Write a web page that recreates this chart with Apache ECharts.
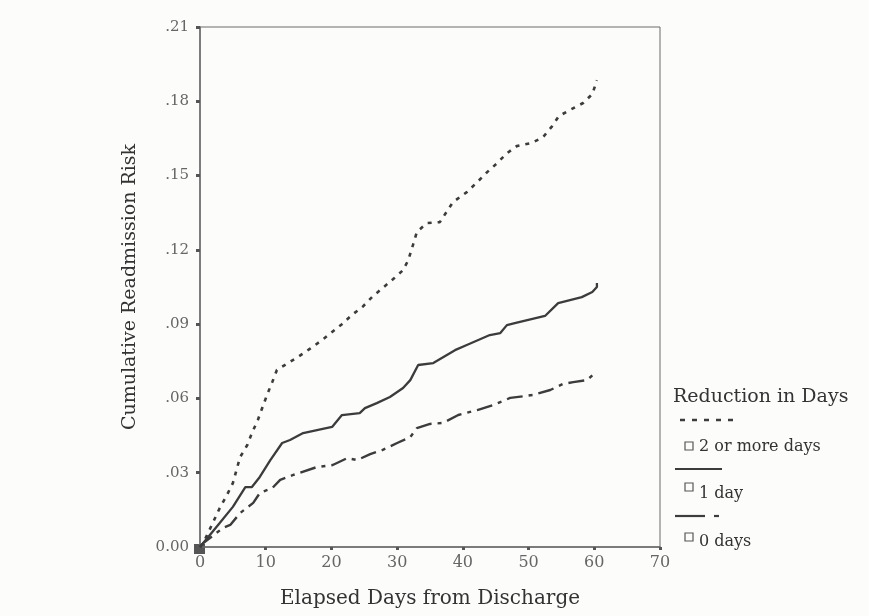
<!DOCTYPE html>
<html>
<head>
<meta charset="utf-8">
<script src="https://cdn.jsdelivr.net/npm/echarts@6/dist/echarts.min.js"></script>
<style>
  html, body { margin: 0; padding: 0; background: #fcfcfb; }
  #chart { width: 869px; height: 616px; }
</style>
</head>
<body>
<div id="chart"></div>
<script>
// 2 or more days (dotted)
const twoDays = [0, 0.5, 3.0, 4.1, 5.0, 6.1, 7.2, 7.9, 8.8, 10.2, 11.0, 11.7, 13.4, 14.9, 16.7, 18.6, 20.1, 21.6, 23.1, 24.7, 26.2, 27.8, 29.4, 30.9, 31.7, 32.4, 33.0, 34.5, 36.5, 38.5, 40.6, 42.2, 43.7, 45.2, 46.7, 48.2, 50.4, 52.2, 53.6, 54.6, 56.5, 58.3, 59.7, 60.4]
const twoRisk = [0, 0.0016, 0.0157, 0.021, 0.0258, 0.0363, 0.0412, 0.046, 0.0513, 0.0614, 0.0666, 0.0715, 0.0743, 0.0767, 0.080, 0.0836, 0.0868, 0.090, 0.0937, 0.0969, 0.101, 0.1046, 0.1082, 0.1118, 0.1159, 0.1219, 0.1272, 0.1308, 0.1312, 0.1393, 0.1433, 0.1474, 0.1514, 0.155, 0.159, 0.1619, 0.1631, 0.1655, 0.170, 0.174, 0.1768, 0.1793, 0.1829, 0.1885]

// 1 day (solid)
const oneDays = [0, 3.0, 5.0, 6.9, 7.9, 9.1, 10.7, 12.5, 13.7, 15.7, 17.8, 20.1, 21.6, 24.3, 25.1, 26.9, 28.9, 30.9, 32.0, 33.2, 35.5, 38.8, 40.6, 44.1, 45.7, 46.7, 47.9, 52.5, 54.5, 58.1, 59.7, 60.4, 60.4]
const oneRisk = [0, 0.0097, 0.0162, 0.0242, 0.0242, 0.0283, 0.0351, 0.042, 0.0432, 0.046, 0.0472, 0.0485, 0.0533, 0.0541, 0.0561, 0.0581, 0.0606, 0.0642, 0.0674, 0.0735, 0.0743, 0.0795, 0.0816, 0.0856, 0.0864, 0.0896, 0.0904, 0.0933, 0.0985, 0.1009, 0.103, 0.105, 0.1066]

// 0 days (dash-dot)
const zeroDays = [0, 0.5, 3.5, 4.6, 6.1, 8.1, 9.1, 11.0, 12.2, 14.2, 17.8, 20.2, 22.4, 23.9, 25.9, 27.8, 30.0, 32.0, 33.0, 35.0, 37.0, 39.3, 42.2, 44.6, 47.2, 50.7, 53.3, 55.2, 56.8, 58.9, 60.1]
const zeroRisk = [0, 0.0016, 0.0077, 0.0089, 0.0137, 0.0178, 0.0218, 0.0238, 0.0271, 0.0291, 0.0323, 0.0331, 0.0359, 0.0351, 0.0375, 0.0392, 0.042, 0.0444, 0.048, 0.0497, 0.0501, 0.0533, 0.0553, 0.0573, 0.0602, 0.0614, 0.0634, 0.0658, 0.0666, 0.0674, 0.0703]

const seriesNames = ['2 or more days', '1 day', '0 days']

const serif = '"DejaVu Serif", "Liberation Serif", serif'
const ink = '#3c3c3c'
const axisGrey = '#6a6a6a'

function pairs(xs, ys) {
  return xs.map((x, i) => [x, ys[i]])
}

const chart = echarts.init(document.getElementById('chart'))
chart.setOption({
  backgroundColor: '#fcfcfb',
  animation: false,
  grid: {
    left: 200,
    top: 27,
    right: 209,
    bottom: 69,
    show: true,
    borderColor: axisGrey,
    borderWidth: 1
  },
  xAxis: {
    type: 'value',
    min: 0,
    max: 70,
    interval: 10,
    name: 'Elapsed Days from Discharge',
    nameLocation: 'middle',
    nameGap: 42,
    nameTextStyle: { fontFamily: serif, fontSize: 20, color: '#333' },
    axisLine: { lineStyle: { color: axisGrey, width: 1.5 } },
    axisTick: { length: 3, lineStyle: { color: '#555', width: 3 } },
    axisLabel: { margin: 8, fontFamily: serif, fontSize: 16, color: '#666' },
    splitLine: { show: false }
  },
  yAxis: {
    type: 'value',
    min: 0,
    max: 0.21,
    interval: 0.03,
    name: 'Cumulative Readmission Risk',
    nameLocation: 'middle',
    nameRotate: 90,
    nameGap: 60,
    nameTextStyle: { fontFamily: serif, fontSize: 19, color: '#333' },
    axisLine: { show: true, lineStyle: { color: axisGrey, width: 1.5 } },
    axisTick: { show: true, length: 4, lineStyle: { color: '#555', width: 3 } },
    axisLabel: {
      margin: 11,
      fontFamily: serif,
      fontSize: 15,
      color: '#666',
      formatter: v => (v === 0 ? '0.00' : v.toFixed(2).replace(/^0/, ''))
    },
    splitLine: { show: false }
  },
  series: [
    {
      name: seriesNames[0],
      type: 'line',
      showSymbol: false,
      data: pairs(twoDays, twoRisk),
      lineStyle: { color: ink, width: 2.6, type: [4, 6] }
    },
    {
      name: seriesNames[1],
      type: 'line',
      showSymbol: false,
      data: pairs(oneDays, oneRisk),
      lineStyle: { color: ink, width: 2.3 }
    },
    {
      name: seriesNames[2],
      type: 'line',
      showSymbol: false,
      data: pairs(zeroDays, zeroRisk),
      lineStyle: { color: ink, width: 2.4, type: [16, 6, 4, 6] }
    }
  ]
})

// origin marker square + hand-drawn style legend
const o = chart.convertToPixel({ gridIndex: 0 }, [0, 0])
const txt = (x, y, s, size) => ({
  type: 'text', x: x, y: y,
  style: { text: s, fontFamily: serif, fontSize: size, fill: '#333', verticalAlign: 'middle' }
})
const box = (x, y) => ({
  type: 'rect', shape: { x: x, y: y, width: 8, height: 8 },
  style: { fill: 'none', stroke: '#555', lineWidth: 1.2 }
})
const seg = (x1, x2, y, dash, w) => ({
  type: 'line', shape: { x1: x1, y1: y, x2: x2, y2: y },
  style: { stroke: ink, lineWidth: w, lineDash: dash }
})
chart.setOption({
  graphic: [
    { type: 'rect', shape: { x: o[0] - 6, y: o[1] - 3, width: 11, height: 10 }, style: { fill: '#555' } },
    txt(673, 397, 'Reduction in Days', 19),
    seg(680, 740, 420, [5, 7], 2.5),
    box(685, 442),
    txt(699, 447, seriesNames[0], 16),
    seg(675, 722, 469, null, 2),
    box(685, 483),
    txt(699, 494, seriesNames[1], 16),
    seg(675, 705, 516, null, 2.2),
    seg(714, 719, 516, null, 2.2),
    box(685, 533),
    txt(699, 542, seriesNames[2], 16)
  ]
})
</script>
</body>
</html>
